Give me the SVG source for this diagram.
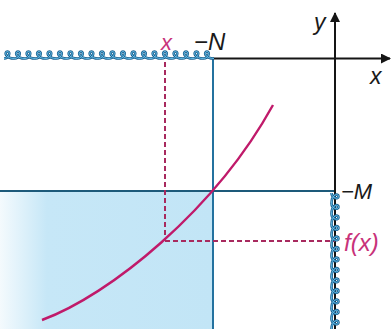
<svg xmlns="http://www.w3.org/2000/svg" width="392" height="329" viewBox="0 0 392 329">
<style>
.lab{font-family:"Liberation Sans",Arial,sans-serif;font-style:italic;font-size:22px;fill:#1a1a1a}
.mag{fill:#c8327a}
.axis{stroke:#151515;stroke-width:2;fill:none}
.blue{stroke:#24729f;stroke-width:2;fill:none}
.dash{stroke:#a82a5e;stroke-width:2;stroke-dasharray:5 3;fill:none}
.coilA{stroke:#1b5f8e;stroke-width:2.6;fill:none}
.coilB{stroke:#6cc6ef;stroke-width:0.9;fill:none}
</style>
<defs>
<linearGradient id="sh" x1="0" y1="0" x2="1" y2="0">
<stop offset="0" stop-color="#f4fafd"/>
<stop offset="0.22" stop-color="#c6e7f7"/>
<stop offset="1" stop-color="#c2e5f6"/>
</linearGradient>
<marker id="ah" viewBox="0 0 10 10" refX="9" refY="5" markerWidth="5" markerHeight="5" orient="auto" markerUnits="strokeWidth">
<path d="M0,0 L10,5 L0,10 z" fill="#151515"/>
</marker>
<path id="coil" d="M0,0 c5,0 7,-7 3.5,-7 -3.5,0 -2.5,7 7,7 5,0 7,-7 3.5,-7 -3.5,0 -2.5,7 7,7 5,0 7,-7 3.5,-7 -3.5,0 -2.5,7 7,7 5,0 7,-7 3.5,-7 -3.5,0 -2.5,7 7,7 5,0 7,-7 3.5,-7 -3.5,0 -2.5,7 7,7 5,0 7,-7 3.5,-7 -3.5,0 -2.5,7 7,7 5,0 7,-7 3.5,-7 -3.5,0 -2.5,7 7,7 5,0 7,-7 3.5,-7 -3.5,0 -2.5,7 7,7 5,0 7,-7 3.5,-7 -3.5,0 -2.5,7 7,7 5,0 7,-7 3.5,-7 -3.5,0 -2.5,7 7,7 5,0 7,-7 3.5,-7 -3.5,0 -2.5,7 7,7 5,0 7,-7 3.5,-7 -3.5,0 -2.5,7 7,7 5,0 7,-7 3.5,-7 -3.5,0 -2.5,7 7,7 5,0 7,-7 3.5,-7 -3.5,0 -2.5,7 7,7 5,0 7,-7 3.5,-7 -3.5,0 -2.5,7 7,7 5,0 7,-7 3.5,-7 -3.5,0 -2.5,7 7,7 5,0 7,-7 3.5,-7 -3.5,0 -2.5,7 7,7 5,0 7,-7 3.5,-7 -3.5,0 -2.5,7 7,7 5,0 7,-7 3.5,-7 -3.5,0 -2.5,7 7,7 5,0 7,-7 3.5,-7 -3.5,0 -2.5,7 7,7"/>
<clipPath id="vclip"><rect x="320" y="192" width="30" height="137"/></clipPath>
</defs>
<rect width="392" height="329" fill="#ffffff"/>
<g id="shade"><rect x="0" y="191" width="213" height="138" fill="url(#sh)"/></g>
<g id="connectors">
<line class="blue" x1="213" y1="58" x2="213" y2="329"/>
<line class="blue" x1="0" y1="191" x2="335" y2="191" style="stroke:#1d5a7a"/>
<line class="axis" x1="213" y1="58.5" x2="390" y2="58.5" marker-end="url(#ah)"/>
<line class="axis" x1="335" y1="329" x2="335" y2="13" marker-end="url(#ah)"/>
<line class="dash" x1="165" y1="62" x2="165" y2="241"/>
<line class="dash" x1="165" y1="241" x2="335" y2="241"/>
<path d="M42,320 C110,295 215,210 273,105" fill="none" stroke="#c01a6a" stroke-width="2.4"/>
</g>
<g id="coil-top">
<use href="#coil" x="4" y="58.5" class="coilA"/>
<use href="#coil" x="4" y="58.5" class="coilB"/>
</g>
<g id="coil-right" clip-path="url(#vclip)">
<g transform="translate(331.5,193) rotate(90)">
<use href="#coil" class="coilA"/>
<use href="#coil" class="coilB"/>
</g>
</g>
<g id="labels">
<text class="lab mag" x="161" y="50">x</text>
<text class="lab" x="194" y="50" style="font-size:24px">−N</text>
<text class="lab" x="314" y="30" style="font-size:23px">y</text>
<text class="lab" x="370" y="84" style="font-size:23px">x</text>
<text class="lab" x="341" y="199">−M</text>
<text class="lab mag" x="344" y="251" style="font-size:24px">f(x)</text>
</g>
</svg>
